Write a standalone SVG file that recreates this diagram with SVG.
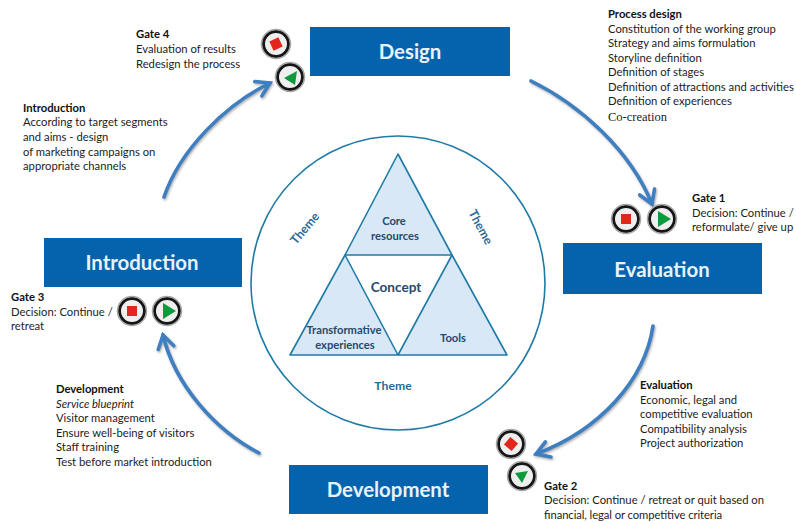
<svg xmlns="http://www.w3.org/2000/svg" width="796" height="522" viewBox="0 0 796 522">
<style>
.box{fill:#0563ad}
.bt{font:bold 20.4px Lato,"Liberation Sans",sans-serif;fill:#e8f2fa;text-anchor:middle}
.t{font:11.25px Lato,"Liberation Sans",sans-serif;fill:#1c1c1c}
.h{font-weight:bold;fill:#111}
.i{font-style:italic}
.tri{fill:#d8e8f7;stroke:#1f7ba6;stroke-width:1.6;stroke-linejoin:round}
.c{font:bold 11.2px Lato,"Liberation Sans",sans-serif;fill:#27496d;text-anchor:middle}
.th{font:bold 12.2px Lato,"Liberation Sans",sans-serif;fill:#2b6a94;text-anchor:middle}
.arr{fill:none;stroke:#3c7fc0;stroke-width:3.6;stroke-linecap:round;filter:url(#s)}
.btn{filter:url(#b)}
.ring{fill:#efefef;stroke:#151515;stroke-width:3}
.halo{fill:none;stroke:#a8a8a8;stroke-width:1.5}
.r{fill:#e2261c}
.g{fill:#0f9a3c}
</style>
<defs>
<filter id="s" x="-20%" y="-20%" width="140%" height="140%"><feDropShadow dx="1" dy="1.5" stdDeviation="1.2" flood-color="#8a8a8a" flood-opacity=".7"/></filter>
<filter id="b" x="-10%" y="-10%" width="120%" height="120%"><feGaussianBlur stdDeviation=".45"/></filter>
<marker id="a" markerUnits="userSpaceOnUse" markerWidth="24" markerHeight="24" refX="20" refY="12" orient="auto"><path d="M7 4 L20 12 L7 20" fill="none" stroke="#3c7fc0" stroke-width="3.6" stroke-linecap="round" stroke-linejoin="miter"/></marker>
</defs>
<rect width="796" height="522" fill="#fff"/>
<g id="connectors">
<path class="arr" d="M531 81 C580 105 630 150 652 204" marker-end="url(#a)"/>
<path class="arr" d="M653 326 C645 380 600 430 536 454" marker-end="url(#a)"/>
<path class="arr" d="M259 453 C215 430 175 385 163 335" marker-end="url(#a)"/>
<path class="arr" d="M164 197 C180 150 225 105 270 83" marker-end="url(#a)"/>
</g>
<g id="theme-circle"><circle cx="398" cy="283" r="147" fill="#fff" stroke="#1f7ba6" stroke-width="1.600"/>
<text class="th" transform="translate(308 231) rotate(-50)">Theme</text>
<text class="th" transform="translate(477 229) rotate(62)">Theme</text>
<text class="th" x="393" y="390">Theme</text></g>
<g id="core-resources"><polygon class="tri" points="398,154 452,255 345,255"/><text class="c" x="394" y="225">Core</text><text class="c" x="395" y="240">resources</text></g>
<g id="transformative"><polygon class="tri" points="345,255 398,355 290,355"/><text class="c" x="344" y="334">Transformative</text><text class="c" x="345" y="349">experiences</text></g>
<g id="tools"><polygon class="tri" points="452,255 507,355 398,355"/><text class="c" x="453" y="342">Tools</text></g>
<g id="concept"><text x="396" y="292" style="font:bold 13.6px Lato,'Liberation Sans',sans-serif;fill:#27496d;text-anchor:middle">Concept</text></g>
<g id="design"><rect class="box" x="310" y="27" width="200" height="49"/><text class="bt" x="410" y="59">Design</text></g>
<g id="evaluation"><rect class="box" x="563" y="243" width="199" height="51"/><text class="bt" x="662" y="277">Evaluation</text></g>
<g id="introduction"><rect class="box" x="44" y="238" width="198" height="49"/><text class="bt" x="142" y="270">Introduction</text></g>
<g id="development"><rect class="box" x="289" y="465" width="199" height="49"/><text class="bt" x="388" y="497">Development</text></g>
<g id="gate4"><g class="btn"><circle class="ring" cx="276" cy="44" r="12.500"/><circle class="halo" cx="276" cy="44" r="14.500"/><rect class="r" x="271" y="39" width="10" height="10" transform="rotate(-25 276 44)"/>
<circle class="ring" cx="290" cy="77" r="12.500"/><circle class="halo" cx="290" cy="77" r="14.500"/><polygon class="g" points="284,78 297,71 295,85"/></g>
<text class="t" x="136" y="37.500"><tspan class="h">Gate 4</tspan><tspan x="136" dy="15.300">Evaluation of results</tspan><tspan x="136" dy="15.300">Redesign the process</tspan></text></g>
<g id="gate1"><g class="btn"><circle class="ring" cx="626" cy="219" r="12.500"/><circle class="halo" cx="626" cy="219" r="14.500"/><rect class="r" x="621" y="214" width="10" height="10"/>
<circle class="ring" cx="662" cy="219" r="12.500"/><circle class="halo" cx="662" cy="219" r="14.500"/><polygon class="g" points="658,211 671,219 658,227"/></g>
<text class="t" x="692" y="202"><tspan class="h">Gate 1</tspan><tspan x="692" dy="14.700">Decision: Continue /</tspan><tspan x="692" dy="14.700">reformulate/ give up</tspan></text></g>
<g id="gate2"><g class="btn"><circle class="ring" cx="511" cy="444" r="12.500"/><circle class="halo" cx="511" cy="444" r="14.500"/><rect class="r" x="506" y="439" width="10" height="10" transform="rotate(40 511 444)"/>
<circle class="ring" cx="522" cy="476" r="12.500"/><circle class="halo" cx="522" cy="476" r="14.500"/><polygon class="g" points="515,473 528,471 522,483"/></g>
<text class="t" x="544" y="489.500"><tspan class="h">Gate 2</tspan><tspan x="544" dy="14.800" textLength="220">Decision: Continue / retreat or quit based on</tspan><tspan x="544" dy="14.800" textLength="178">financial, legal or competitive criteria</tspan></text></g>
<g id="gate3"><g class="btn"><circle class="ring" cx="132" cy="311" r="12.500"/><circle class="halo" cx="132" cy="311" r="14.500"/><rect class="r" x="127" y="306" width="10" height="10"/>
<circle class="ring" cx="167" cy="311" r="12.500"/><circle class="halo" cx="167" cy="311" r="14.500"/><polygon class="g" points="163,303 176,311 163,319"/></g>
<text class="t" x="11" y="301"><tspan class="h">Gate 3</tspan><tspan x="11" dy="14.500">Decision: Continue /</tspan><tspan x="11" dy="14.500">retreat</tspan></text></g>
<g id="process-design"><text class="t" x="608" y="18"><tspan class="h">Process design</tspan><tspan x="608" dy="14.500">Constitution of the working group</tspan><tspan x="608" dy="14.500">Strategy and aims formulation</tspan><tspan x="608" dy="14.500">Storyline definition</tspan><tspan x="608" dy="14.500">Definition of stages</tspan><tspan x="608" dy="14.500">Definition of attractions and activities</tspan><tspan x="608" dy="14.500">Definition of experiences</tspan><tspan x="608" dy="15.500" style="font-family:'Liberation Serif',serif;font-size:12.500px">Co-creation</tspan></text></g>
<g id="evaluation-text"><text class="t" x="640" y="389"><tspan class="h">Evaluation</tspan><tspan x="640" dy="14.500">Economic, legal and</tspan><tspan x="640" dy="14.500">competitive evaluation</tspan><tspan x="640" dy="14.500">Compatibility analysis</tspan><tspan x="640" dy="14.500">Project authorization</tspan></text></g>
<g id="development-text"><text class="t" x="56" y="393"><tspan class="h">Development</tspan><tspan x="56" dy="14.500" class="i">Service blueprint</tspan><tspan x="56" dy="14.500">Visitor management</tspan><tspan x="56" dy="14.500">Ensure well-being of visitors</tspan><tspan x="56" dy="14.500">Staff training</tspan><tspan x="56" dy="14.500">Test before market introduction</tspan></text></g>
<g id="introduction-text"><text class="t" x="23" y="111.500"><tspan class="h">Introduction</tspan><tspan x="23" dy="14.700">According to target segments</tspan><tspan x="23" dy="14.700">and aims - design</tspan><tspan x="23" dy="14.700">of marketing campaigns on</tspan><tspan x="23" dy="14.700">appropriate channels</tspan></text></g>
</svg>
